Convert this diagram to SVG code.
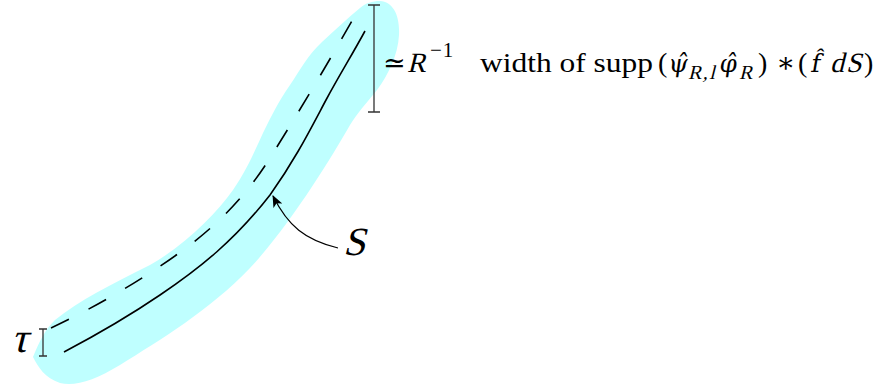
<svg xmlns="http://www.w3.org/2000/svg" width="878" height="387" viewBox="0 0 878 387">
<style>
.curve{fill:none;stroke:#000;stroke-width:1.6;stroke-linecap:butt}
.dash{stroke-dasharray:20 22}
.brk{fill:none;stroke:#333;stroke-width:1.3}
.m{font-family:"Liberation Serif","DejaVu Serif",serif;fill:#000}
.h{font-family:"DejaVu Serif","Liberation Serif",serif;fill:#000}
</style>
<defs>
<marker id="ah" viewBox="0 0 12 10" refX="11" refY="5" markerWidth="12" markerHeight="10" markerUnits="userSpaceOnUse" orient="auto">
<path d="M0,0 L12,5 L0,10 L3,5 Z" fill="#000"/>
</marker>
</defs>
<g id="band">
<path d="M33,357 C40,340 45,330 55,320 C80,300 110,285 150,265 C185,245 215,215 233,190 C248,168 255,150 263,133 C272,115 278,102 290,85 C300,70 308,55 322,42 C335,30 348,18 360,8 C366,3 372,1 380,1 C393,2 400,15 399,35 C398,55 388,75 377,90 C365,105 358,112 350,125 C330,160 290,225 250,268 C210,310 160,340 120,365 C95,380 75,387 60,383 C45,378 38,367 33,357 Z" fill="#bfffff"/>
</g>
<g id="connectors">
<path class="curve" d="M64,352 C100,333 135,312 160,295 C200,268 235,240 270,195 C295,160 310,130 326,100 C340,74 352,55 365,31"/>
<path class="curve dash" d="M51,328 C100,305 150,275 190,245 C225,218 250,190 270,158 C300,110 330,60 361,5"/>
<path d="M338,248 C305,240 288,226 273,196" fill="none" stroke="#000" stroke-width="1.2" marker-end="url(#ah)"/>
</g>
<g id="width-bracket">
<path class="brk" d="M374,5 V112 M368,5 H380 M368,112 H380"/>
<text class="m" x="383" y="72" font-size="27">≃</text>
<text class="m" transform="translate(407,72) skewX(-14)" font-size="28">R</text>
<text class="m" x="430" y="57" font-size="21" letter-spacing="1">−1</text>
<text class="m" x="480" y="72" font-size="28" textLength="173" lengthAdjust="spacingAndGlyphs">width of supp</text>
<text class="m" x="658" y="72" font-size="28">(</text>
<text class="h" transform="translate(668,72) skewX(-8)" font-size="25">ψ̂</text>
<text class="m" transform="translate(688,79) skewX(-14)" font-size="20" letter-spacing="1.5">R,l</text>
<text class="h" transform="translate(719,72) skewX(-8)" font-size="25">φ̂</text>
<text class="m" transform="translate(739,79) skewX(-14)" font-size="20">R</text>
<text class="m" x="758" y="72" font-size="28">)</text>
<text class="m" x="776" y="72" font-size="28">∗</text>
<text class="m" x="798" y="72" font-size="28">(</text>
<text class="h" transform="translate(810,72) skewX(-10)" font-size="25">f̂</text>
<text class="m" transform="translate(830,72) skewX(-14)" font-size="28">d</text>
<text class="m" transform="translate(846,72) skewX(-14)" font-size="28">S</text>
<text class="m" x="864" y="72" font-size="28">)</text>
</g>
<g id="tau-bracket">
<path class="brk" d="M43,329 V356 M39,329 H47 M39,356 H47"/>
<text class="m" transform="translate(11,352) skewX(-14)" font-size="42">τ</text>
</g>
<g id="label-S">
<text class="m" transform="translate(343,255) skewX(-14)" font-size="40">S</text>
</g>
</svg>
